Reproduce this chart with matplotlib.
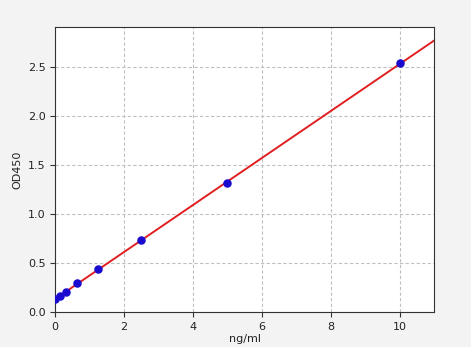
import numpy as np
import matplotlib
matplotlib.use("Agg")
import matplotlib.pyplot as plt

# standard concentrations (ng/ml) and measured OD450
conc = [0, 0.156, 0.3125, 0.625, 1.25, 2.5, 5, 10]
od450 = [0.13, 0.163, 0.202, 0.293, 0.443, 0.737, 1.313, 2.54]

# linear fit through the standards
coef = np.polyfit(conc, od450, 1)
xfit = np.linspace(0, 11, 200)
yfit = np.polyval(coef, xfit)

fig, ax = plt.subplots(figsize=(4.71, 3.47), dpi=100)
fig.patch.set_facecolor('#f3f3f3')
ax.set_facecolor('white')

ax.plot(xfit, yfit, color='#e02020', lw=1.4, zorder=2)
ax.scatter(conc, od450, color='#1a0ad0', s=26, zorder=3)

ax.set_xlim(0, 11)
ax.set_ylim(0, 2.91)
ax.set_xticks([0, 2, 4, 6, 8, 10])
ax.set_yticks([0, 0.5, 1.0, 1.5, 2.0, 2.5])
ax.grid(True, linestyle=(0, (3, 2)), color='#c0c0c0', lw=0.8)
ax.set_xlabel('ng/ml', fontsize=8, labelpad=2, color='#222222')
ax.set_ylabel('OD450', fontsize=8, color='#222222')
ax.tick_params(labelsize=8, color='#333333', labelcolor='#222222')
for s in ax.spines.values():
    s.set_color('#333333')

fig.subplots_adjust(left=0.117, right=0.922, top=0.922, bottom=0.101)
fig.savefig('out.png', dpi=100, facecolor=fig.get_facecolor())
